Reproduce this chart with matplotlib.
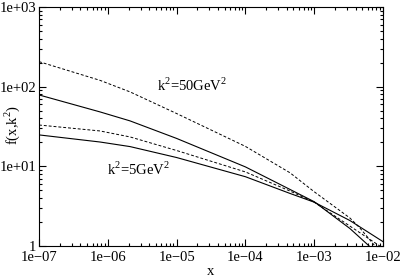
import numpy as np
import matplotlib
matplotlib.use('Agg')
import matplotlib.pyplot as plt
from matplotlib.ticker import FixedLocator, FuncFormatter, LogLocator, NullFormatter

plt.rcParams['font.family'] = ['Liberation Serif', 'DejaVu Serif']
plt.rcParams['mathtext.fontset'] = 'custom'
plt.rcParams['mathtext.rm'] = 'Liberation Serif'

# curves (k^2 = 50 and 5 GeV^2, solid and dashed)
x_s50 = [1e-7, 7.7e-7, 2.1e-6, 1e-5, 1e-4, 4.45e-4, 1e-3, 3.3e-3, 6.3e-3]
y_s50 = [78.7, 48.2, 37.2, 22.4, 9.84, 5.13, 3.6, 1.66, 1.0]

x_d50 = [1e-7, 7.7e-7, 2.1e-6, 1e-5, 1e-4, 4.45e-4, 1e-3, 3.3e-3, 4.6e-3, 7.65e-3]
y_d50 = [206, 120, 86, 46, 17.8, 8.3, 4.8, 2.25, 1.69, 1.0]

x_s5 = [1e-7, 7.7e-7, 2.1e-6, 1e-5, 1e-4, 4.45e-4, 1e-3, 3.3e-3, 1e-2]
y_s5 = [24.8, 20.2, 17.7, 12.9, 7.41, 4.57, 3.55, 2.09, 1.135]

x_d5 = [1e-7, 7.7e-7, 2.1e-6, 1e-5, 1e-4, 4.45e-4, 1e-3, 3.3e-3, 9e-3]
y_d5 = [33, 27.8, 23.4, 15.8, 8.51, 4.9, 3.55, 1.78, 1.0]

xticks = [1e-7, 1e-6, 1e-5, 1e-4, 1e-3, 1e-2]
xlabels = ['1e\u221207', '1e\u221206', '1e\u221205', '1e\u221204', '1e\u221203', '1e\u221202']
yticks = [1, 10, 100, 1000]
ylabels = ['1', '1e+01', '1e+02', '1e+03']

fig = plt.figure(figsize=(4.0, 2.78), dpi=100)
ax = fig.add_axes([0.0975, 0.115, 0.86, 0.86])

ax.plot(x_s50, y_s50, color='black', lw=0.8)
ax.plot(x_d50, y_d50, color='black', lw=0.7, dashes=(3, 2))
ax.plot(x_s5, y_s5, color='black', lw=0.8)
ax.plot(x_d5, y_d5, color='black', lw=0.7, dashes=(3, 2))

ax.set_xscale('log')
ax.set_yscale('log')
ax.set_xlim(1e-7, 1e-2)
ax.set_ylim(1, 1e3)

ax.xaxis.set_major_locator(FixedLocator(xticks))
ax.xaxis.set_major_formatter(FuncFormatter(lambda v, p: xlabels[xticks.index(v)] if v in xticks else ''))
ax.yaxis.set_major_locator(FixedLocator(yticks))
ax.yaxis.set_major_formatter(FuncFormatter(lambda v, p: ylabels[yticks.index(v)] if v in yticks else ''))
ax.xaxis.set_minor_locator(LogLocator(base=10, subs=np.arange(2, 10)))
ax.yaxis.set_minor_locator(LogLocator(base=10, subs=np.arange(2, 10)))
ax.xaxis.set_minor_formatter(NullFormatter())
ax.yaxis.set_minor_formatter(NullFormatter())

ax.tick_params(which='both', direction='in', top=True, right=True, labelsize=10.5, width=0.8)
ax.tick_params(which='major', length=5, pad=2)
ax.tick_params(which='minor', length=2.5)
ax.tick_params(axis='x', which='major', pad=3.5)
for s in ax.spines.values():
    s.set_linewidth(0.8)

ax.set_xlabel('x', fontsize=10.5, va='center')
ax.xaxis.set_label_coords(0.5, -0.105)
ax.set_ylabel('f(x,k$^2$)', fontsize=10.5, va='center')
ax.yaxis.set_label_coords(-0.078, 0.505)

ax.text(5.2e-6, 88, 'k$^2$=50GeV$^2$', fontsize=10.5, ha='left', va='baseline')
ax.text(9.7e-7, 7.8, 'k$^2$=5GeV$^2$', fontsize=10.5, ha='left', va='baseline')

fig.savefig('out.png', dpi=100)
